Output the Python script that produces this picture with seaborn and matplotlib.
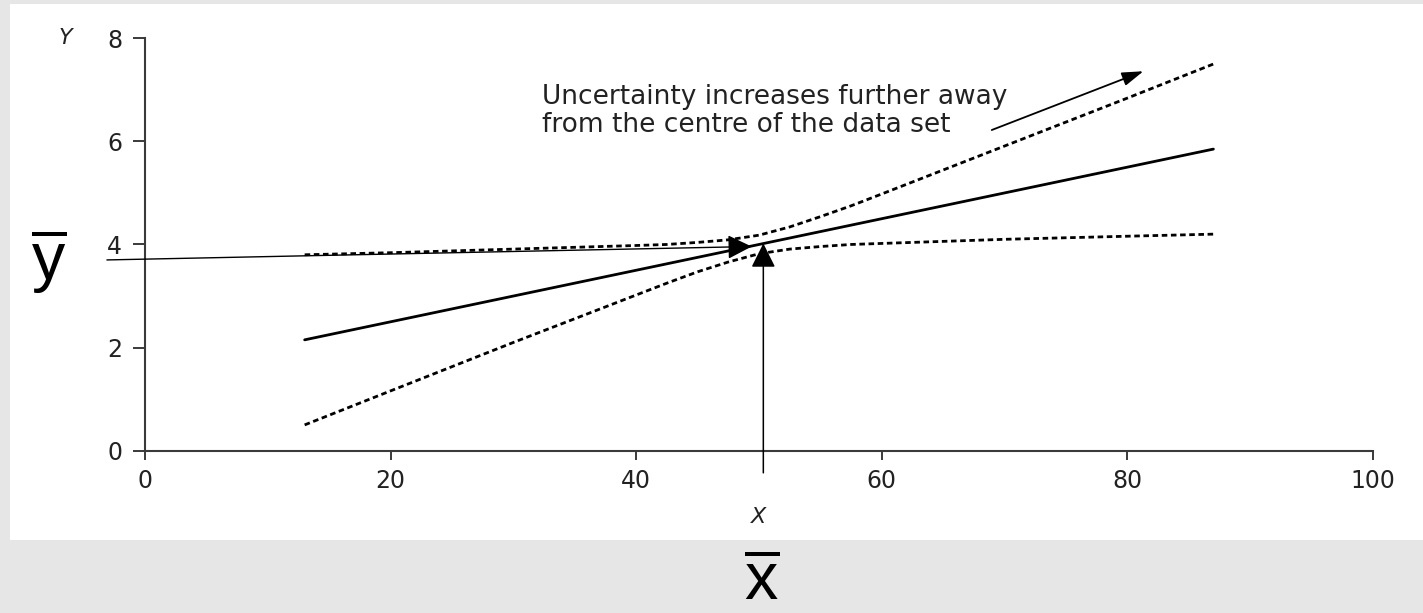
import matplotlib
matplotlib.use("Agg")
import matplotlib.pyplot as plt
import seaborn as sns
from matplotlib.patches import Rectangle

# ---- data ----
x_fit = [13, 87]
y_fit = [2.15, 5.85]

x_band = [13, 20, 30, 40, 42.5, 45, 47.5, 50, 52.5, 55, 57.5, 60, 70, 80, 87]
upper = [3.80, 3.84, 3.91, 3.98, 4.00, 4.04, 4.09, 4.18, 4.34, 4.54, 4.75, 4.98, 5.91, 6.84, 7.50]
lower = [0.50, 1.16, 2.10, 3.02, 3.25, 3.47, 3.66, 3.82, 3.91, 3.96, 4.00, 4.02, 4.10, 4.16, 4.20]

x_ticks = [0, 20, 40, 60, 80, 100]
y_ticks = [0, 2, 4, 6, 8]

note_lines = ["Uncertainty increases further away", "from the centre of the data set"]

# ---- style ----
sns.set_style("ticks")
plt.rcParams["font.family"] = ["DejaVu Sans"]
plt.rcParams["mathtext.fontset"] = "custom"
plt.rcParams["mathtext.rm"] = "Liberation Sans"

fig = plt.figure(figsize=(14.23, 6.13), dpi=100, facecolor="#e6e6e6")
fig.patches.append(Rectangle((0.007, 0.119), 0.993, 0.875, transform=fig.transFigure,
                             facecolor="white", edgecolor="none", zorder=-10))
ax = fig.add_axes([0.1019, 0.2648, 0.8630, 0.6728])
ax.set_zorder(5)
ax.set_facecolor("white")

sns.lineplot(x=x_fit, y=y_fit, ax=ax, color="black", linewidth=2.0)
sns.lineplot(x=x_band, y=upper, ax=ax, color="black", linewidth=2.0, linestyle=(0, (2.0, 1.3)))
sns.lineplot(x=x_band, y=lower, ax=ax, color="black", linewidth=2.0, linestyle=(0, (2.0, 1.3)))

ax.set_xlim(0, 100)
ax.set_ylim(0, 8)
ax.set_xticks(x_ticks)
ax.set_yticks(y_ticks)
ax.set_xticklabels([str(v) for v in x_ticks])
ax.set_yticklabels([str(v) for v in y_ticks])
sns.despine(ax=ax)
for s in ("left", "bottom"):
    ax.spines[s].set_linewidth(1.5)
    ax.spines[s].set_color("#3a3a3a")
ax.tick_params(axis="x", direction="out", length=6.5, width=1.4, color="#3a3a3a",
               labelsize=17, pad=7, labelcolor="#222222")
ax.tick_params(axis="y", direction="out", length=8.5, width=1.4, color="#3a3a3a",
               labelsize=17, pad=8, labelcolor="#222222")

ax.set_xlabel("X", style="italic", fontsize=16, color="#222222", labelpad=10)
ax.set_ylabel("")
ax.text(-6.5, 8, "Y", style="italic", fontsize=16, color="#222222",
        ha="center", va="center", clip_on=False)

# annotation text
ax.text(32.3, 6.725, note_lines[0], fontsize=19, color="#222222", ha="left", va="baseline")
ax.text(32.3, 6.19, note_lines[1], fontsize=19, color="#222222", ha="left", va="baseline")

# arrows
big = dict(arrowstyle="-|>,head_length=1.5,head_width=0.75", mutation_scale=10,
           color="black", shrinkA=0, shrinkB=0)
ax.annotate("", xy=(49.4, 3.96), xytext=(-3.1, 3.70),
            arrowprops=dict(big, lw=1.0), annotation_clip=False)
ax.annotate("", xy=(50.35, 4.02), xytext=(50.35, -0.43),
            arrowprops=dict(big, lw=1.1), annotation_clip=False)
ax.annotate("", xy=(81.3, 7.36), xytext=(68.95, 6.22),
            arrowprops=dict(arrowstyle="-|>,head_length=1.3,head_width=0.42", mutation_scale=10,
                            color="black", shrinkA=0, shrinkB=0, lw=1.3),
            annotation_clip=False)

# mean labels
fig.text(49 / 1423, (613 - 279) / 613, r"$\overline{\mathrm{y}}$", fontsize=48,
         ha="center", va="baseline", color="black")
fig.text(762 / 1423, 0.0, r"$\overline{\mathrm{x}}$", fontsize=48,
         ha="center", va="bottom", color="black")

fig.savefig("out.png", dpi=100, facecolor=fig.get_facecolor())
